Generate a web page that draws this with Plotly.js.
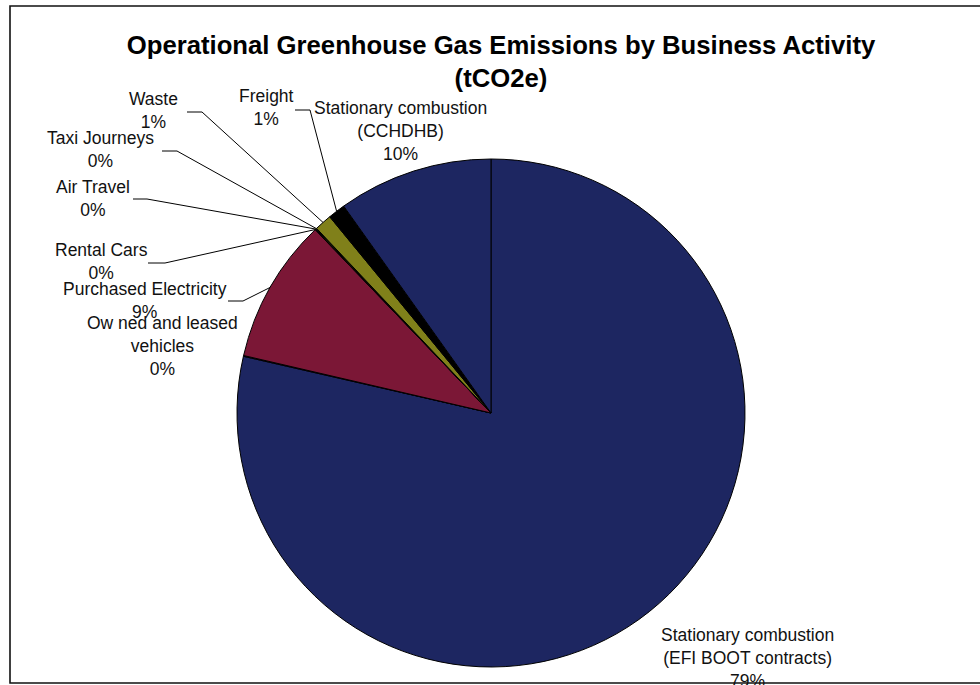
<!DOCTYPE html>
<html>
<head>
<meta charset="utf-8">
<script src="https://cdn.plot.ly/plotly-3.0.1.min.js"></script>
<style>html,body{margin:0;padding:0;background:#fff;}#chart{width:980px;height:685px;}</style>
</head>
<body>
<div id="chart"></div>
<script>
// ---- data ----
const categories = [
  'Stationary combustion (EFI BOOT contracts)',
  'Owned and leased vehicles',
  'Purchased Electricity',
  'Rental Cars',
  'Air Travel',
  'Taxi Journeys',
  'Waste',
  'Freight',
  'Stationary combustion (CCHDHB)'
];
const displayNames = [
  'Stationary combustion<br>(EFI BOOT contracts)',
  'Ow ned and leased<br>vehicles',
  'Purchased Electricity',
  'Rental Cars',
  'Air Travel',
  'Taxi Journeys',
  'Waste',
  'Freight',
  'Stationary combustion<br>(CCHDHB)'
];
const shares = [78.6, 0.05, 9.2, 0.03, 0.05, 0.04, 1.1, 1.1, 9.85];
const sliceColors = ['#1D2661', '#1D2661', '#7B1736', '#7B1736', '#80801A', '#80801A', '#80801A', '#000000', '#1D2661'];

// ---- layout constants (pixels) ----
const W = 980, H = 685;
const cx = 491, cy = 413, R = 254;
const FONT = '"Liberation Sans", Arial, sans-serif';
// label centre positions and leader start points
const labelPos = [
  {x: 747, y: 658, lead: null},
  {x: 162, y: 346, lead: null},
  {x: 145, y: 300, lead: [[228, 301], [243, 301]]},
  {x: 101, y: 261, lead: [[148, 263], [165, 263]]},
  {x: 93,  y: 198, lead: [[133, 199], [147, 199]]},
  {x: 100, y: 150, lead: [[162, 151], [177, 151]]},
  {x: 153, y: 110, lead: [[187, 112], [202, 112]]},
  {x: 266, y: 108, lead: [[295, 110], [310, 110]]},
  {x: 400, y: 131, lead: null}
];

const px = v => v / W;
const py = v => 1 - v / H;

const total = shares.reduce((a, b) => a + b, 0);
let cum = 0;
const annotations = [];
const shapes = [];
shares.forEach((v, i) => {
  const mid = (cum + v / 2) / total * 2 * Math.PI; // clockwise from 12 o'clock
  cum += v;
  const ex = cx + R * Math.sin(mid);
  const ey = cy - R * Math.cos(mid);
  const pct = Math.round(v / total * 100) + '%';
  const lp = labelPos[i];
  annotations.push({
    xref: 'paper', yref: 'paper', x: px(lp.x), y: py(lp.y),
    xanchor: 'center', yanchor: 'middle', showarrow: false, align: 'center',
    text: displayNames[i] + '<br>' + pct,
    font: {family: FONT, size: 17.5, color: '#111'}
  });
  if (lp.lead) {
    const p = lp.lead;
    shapes.push({
      type: 'path', xref: 'paper', yref: 'paper',
      path: 'M ' + px(p[0][0]) + ',' + py(p[0][1]) + ' L ' + px(p[1][0]) + ',' + py(p[1][1]) + ' L ' + px(ex) + ',' + py(ey),
      line: {color: '#000', width: 1}
    });
  }
});

// outer frame
shapes.push({
  type: 'rect', xref: 'paper', yref: 'paper',
  x0: px(10), x1: 1.02, y0: py(683), y1: py(6),
  line: {color: '#111', width: 1.6}, fillcolor: 'rgba(0,0,0,0)', layer: 'above'
});

const trace = {
  type: 'pie',
  labels: categories,
  values: shares,
  sort: false,
  direction: 'clockwise',
  rotation: 0,
  textinfo: 'none',
  hoverinfo: 'skip',
  showlegend: false,
  marker: {colors: sliceColors, line: {color: '#000', width: 1}},
  domain: {x: [px(cx - R), px(cx + R)], y: [py(cy + R), py(cy - R)]}
};

const layout = {
  width: W, height: H,
  margin: {l: 0, r: 0, t: 0, b: 0},
  paper_bgcolor: '#fff', plot_bgcolor: '#fff',
  title: {
    text: '<b>Operational Greenhouse Gas Emissions by Business Activity<br>(tCO2e)</b>',
    font: {family: FONT, size: 25.7, color: '#000'},
    x: px(501), xanchor: 'center',
    y: py(54), yanchor: 'top', yref: 'container'
  },
  annotations: annotations,
  shapes: shapes
};

Plotly.newPlot('chart', [trace], layout, {displayModeBar: false, staticPlot: true});
</script>
</body>
</html>
